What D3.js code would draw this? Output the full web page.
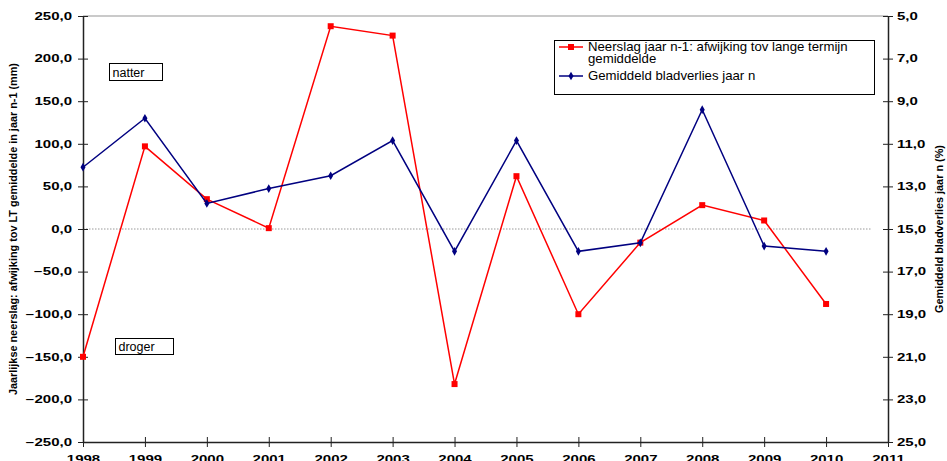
<!DOCTYPE html>
<html>
<head>
<meta charset="utf-8">
<script src="https://cdn.jsdelivr.net/npm/d3@7"></script>
<style>
  body { margin: 0; background: #fff; }
  svg { display: block; font-family: "Liberation Sans", Arial, sans-serif; }
</style>
</head>
<body>
<div id="chart"></div>
<script>
const years = [1998, 1999, 2000, 2001, 2002, 2003, 2004, 2005, 2006, 2007, 2008, 2009, 2010];
const neerslag = [-150, 97, 35, 1, 238, 227, -182, 62, -100, -16, 28, 10, -88];
const bladverlies = [12.1, 9.8, 13.8, 13.1, 12.5, 10.85, 16.05, 10.85, 16.05, 15.65, 9.4, 15.8, 16.05];
const xTicks = d3.range(1998, 2012);
const leftTicks = d3.range(-250, 251, 50);
const rightTicks = d3.range(5, 26, 2);
const legendLabels = ["Neerslag jaar n-1: afwijking tov lange termijn", "gemiddelde", "Gemiddeld bladverlies jaar n"];

const width = 947, height = 461;
const plot = { left: 83, right: 888, top: 16, bottom: 442 };
const stretch = 1.5;

const x = d3.scaleLinear().domain([1998, 2011]).range([plot.left, plot.right]);
const yLeft = d3.scaleLinear().domain([-250, 250]).range([plot.bottom, plot.top]);
const yRight = d3.scaleLinear().domain([25, 5]).range([plot.bottom, plot.top]);

const comma = d3.format(".1f");
const fmt = d => comma(d).replace(".", ",");

const svg = d3.select("#chart").append("svg")
  .attr("width", width)
  .attr("height", height);

// top border of plot area
svg.append("line")
  .attr("x1", plot.left).attr("x2", plot.right)
  .attr("y1", plot.top).attr("y2", plot.top)
  .attr("stroke", "#b8b8b8").attr("stroke-width", 1.5);

// zero line
svg.append("line")
  .attr("x1", plot.left).attr("x2", 872)
  .attr("y1", yLeft(0)).attr("y2", yLeft(0))
  .attr("stroke", "#999").attr("stroke-dasharray", "1.5,1.5");

// Axes
const styleAxis = (g) => {
  g.select(".domain").attr("stroke", "#222").attr("stroke-width", 1.5);
  g.selectAll(".tick line").attr("stroke", "#222");
  g.selectAll(".tick text")
    .attr("font-size", 10)
    .attr("font-weight", "bold")
    .attr("fill", "#000");
};

const leftAxis = svg.append("g")
  .attr("transform", `translate(${plot.left},0)`)
  .call(d3.axisLeft(yLeft).tickValues(leftTicks).tickFormat(fmt).tickSizeInner(5).tickSizeOuter(0).tickPadding(11));
styleAxis(leftAxis);
leftAxis.selectAll(".tick line").attr("x1", 5);
leftAxis.selectAll(".tick text")
  .attr("x", -11 / stretch)
  .attr("transform", `scale(${stretch},1)`);

const rightAxis = svg.append("g")
  .attr("transform", `translate(${plot.right},0)`)
  .call(d3.axisRight(yRight).tickValues(rightTicks).tickFormat(fmt).tickSizeInner(5).tickSizeOuter(0));
styleAxis(rightAxis);
rightAxis.selectAll(".tick line").attr("x1", -5);
rightAxis.selectAll(".tick text")
  .attr("x", 9 / stretch)
  .attr("transform", `scale(${stretch},1)`);

const bottomAxis = svg.append("g")
  .attr("transform", `translate(0,${plot.bottom})`)
  .call(d3.axisBottom(x).tickValues(xTicks).tickFormat(d3.format("d")).tickSizeInner(5).tickSizeOuter(0));
styleAxis(bottomAxis);
bottomAxis.selectAll(".tick line").attr("y1", -5);
bottomAxis.selectAll(".tick text")
  .attr("y", 0).attr("dy", null)
  .attr("transform", `translate(0,21) scale(${stretch},1)`);

// Axis titles
svg.append("text")
  .attr("transform", `translate(17,${yLeft(0)}) rotate(-90)`)
  .attr("text-anchor", "middle")
  .attr("font-size", 11)
  .attr("font-weight", "bold")
  .attr("textLength", 332)
  .attr("lengthAdjust", "spacingAndGlyphs")
  .text("Jaarlijkse neerslag: afwijking tov LT gemiddelde in jaar n-1 (mm)");

svg.append("text")
  .attr("transform", `translate(943,${yLeft(0)}) rotate(-90)`)
  .attr("text-anchor", "middle")
  .attr("font-size", 11)
  .attr("font-weight", "bold")
  .attr("textLength", 168)
  .attr("lengthAdjust", "spacingAndGlyphs")
  .text("Gemiddeld bladverlies jaar n (%)");

// Lines
const redLine = d3.line()
  .x((d, i) => x(years[i]))
  .y(d => yLeft(d));

const blueLine = d3.line()
  .x((d, i) => x(years[i]))
  .y(d => yRight(d));

svg.append("path")
  .datum(neerslag)
  .attr("d", redLine)
  .attr("fill", "none")
  .attr("stroke", "#ff0000")
  .attr("stroke-width", 1.5);

svg.selectAll(".red-mark")
  .data(neerslag)
  .join("rect")
  .attr("class", "red-mark")
  .attr("x", (d, i) => x(years[i]) - 3)
  .attr("y", d => yLeft(d) - 3)
  .attr("width", 6)
  .attr("height", 6)
  .attr("fill", "#ff0000");

svg.append("path")
  .datum(bladverlies)
  .attr("d", blueLine)
  .attr("fill", "none")
  .attr("stroke", "#000080")
  .attr("stroke-width", 1.5);

const diamond = d3.symbol().type(d3.symbolDiamond).size(22);
svg.selectAll(".blue-mark")
  .data(bladverlies)
  .join("path")
  .attr("class", "blue-mark")
  .attr("transform", (d, i) => `translate(${x(years[i])},${yRight(d)})`)
  .attr("d", diamond)
  .attr("fill", "#000080");

// Legend
const legend = svg.append("g");
legend.append("rect")
  .attr("x", 554.5).attr("y", 40.5)
  .attr("width", 320).attr("height", 54)
  .attr("fill", "#fff").attr("stroke", "#000");

legend.append("line")
  .attr("x1", 559).attr("x2", 583).attr("y1", 47).attr("y2", 47)
  .attr("stroke", "#ff0000").attr("stroke-width", 1.5);
legend.append("rect")
  .attr("x", 568).attr("y", 44).attr("width", 6).attr("height", 6)
  .attr("fill", "#ff0000");

legend.append("line")
  .attr("x1", 559).attr("x2", 583).attr("y1", 76).attr("y2", 76)
  .attr("stroke", "#000080").attr("stroke-width", 1.5);
legend.append("path")
  .attr("transform", "translate(571,76)")
  .attr("d", diamond)
  .attr("fill", "#000080");

legend.selectAll("text")
  .data(legendLabels)
  .join("text")
  .attr("x", 588 / 1.1)
  .attr("y", (d, i) => [51, 63, 80][i])
  .attr("transform", "scale(1.1,1)")
  .attr("font-size", 12)
  .text(d => d);

// natter / droger boxes
const notes = [
  { label: "natter", x: 109.5, y: 63.5, w: 53, h: 17 },
  { label: "droger", x: 115.5, y: 338.5, w: 58, h: 16 }
];
notes.forEach(n => {
  svg.append("rect")
    .attr("x", n.x).attr("y", n.y)
    .attr("width", n.w).attr("height", n.h)
    .attr("fill", "#fff").attr("stroke", "#000");
  svg.append("text")
    .attr("x", n.x + 3)
    .attr("y", n.y + n.h - 4)
    .attr("font-size", 12.5)
    .text(n.label);
});
</script>
</body>
</html>
